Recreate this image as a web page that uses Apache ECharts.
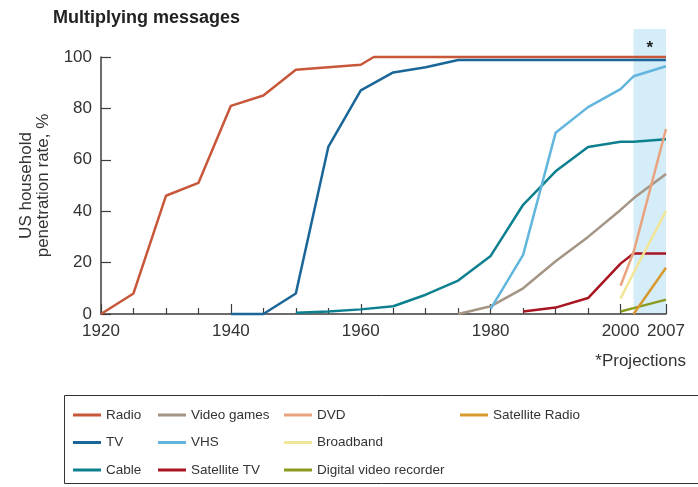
<!DOCTYPE html>
<html>
<head>
<meta charset="utf-8">
<script src="https://cdn.jsdelivr.net/npm/echarts@6/dist/echarts.min.js"></script>
<style>
  html, body { margin: 0; padding: 0; background: #fff; }
  #chart { width: 698px; height: 487px; }
</style>
</head>
<body>
<div id="chart"></div>
<script>
// Household penetration, [year, percent]
const radio = [[1920,0],[1925,8],[1930,46],[1935,51],[1940,81],[1945,85],[1950,95],[1955,96],[1960,97],[1962,100],[1970,100],[1980,100],[1990,100],[2000,100],[2007,100]];
const tv = [[1940,0],[1945,0],[1950,8],[1955,65],[1960,87],[1965,94],[1970,96],[1975,98.8],[1980,98.8],[1990,98.8],[2000,98.8],[2007,98.8]];
const cable = [[1950,0.5],[1955,1],[1960,1.8],[1965,3],[1970,7.5],[1975,13],[1980,22.6],[1985,42.5],[1990,55.5],[1995,65],[2000,67],[2002,67],[2007,68]];
const videoGames = [[1975,0],[1980,3],[1985,10],[1990,20.5],[1995,30],[2000,40.5],[2002,45],[2007,54.5]];
const vhs = [[1980,2],[1985,23],[1990,70.5],[1995,80.5],[2000,87.5],[2002,92.5],[2007,96.4]];
const satelliteTv = [[1985,1],[1990,2.5],[1995,6.2],[2000,19.6],[2002,23.5],[2007,23.5]];
const dvd = [[2000,11],[2002,24],[2007,72]];
const broadband = [[2000,6],[2002,16],[2007,40]];
const dvr = [[2000,1],[2002,2.3],[2007,5.6]];
const satelliteRadio = [[2002,0],[2007,18]];

const majorYears = [1920, 1940, 1960, 1980, 2000, 2007];
const minorYears = [1925, 1930, 1935, 1945, 1950, 1955, 1965, 1970, 1975, 1985, 1990, 1995];
const projectionStart = 2002;
const projectionEnd = 2007;

const FONT = '"Liberation Sans", Arial, Helvetica, sans-serif';
const AXIS = '#3d3d3d';

const seriesDefs = [
  { name: 'Radio', data: radio, color: '#c8573a' },
  { name: 'TV', data: tv, color: '#1a6698' },
  { name: 'Cable', data: cable, color: '#0d8090' },
  { name: 'Video games', data: videoGames, color: '#a59584' },
  { name: 'VHS', data: vhs, color: '#62b6dd' },
  { name: 'Satellite TV', data: satelliteTv, color: '#a8141f' },
  { name: 'Broadband', data: broadband, color: '#f1e597' },
  { name: 'DVD', data: dvd, color: '#e9a47f' },
  { name: 'Digital video recorder', data: dvr, color: '#8a9a1c' },
  { name: 'Satellite Radio', data: satelliteRadio, color: '#d89a2f' }
];

const legendColumns = [
  { left: 73, names: ['Radio', 'TV', 'Cable'] },
  { left: 158, names: ['Video games', 'VHS', 'Satellite TV'] },
  { left: 284, names: ['DVD', 'Broadband', 'Digital video recorder'] },
  { left: 460, names: ['Satellite Radio'] }
];

const chart = echarts.init(document.getElementById('chart'), null, { renderer: 'canvas' });

const option = {
  animation: false,
  backgroundColor: '#ffffff',
  textStyle: { fontFamily: FONT },
  title: {
    text: 'Multiplying messages',
    left: 53, top: 9, padding: 0,
    textStyle: { fontFamily: FONT, fontSize: 18, fontWeight: 'bold', color: '#222' }
  },
  grid: { left: 101, right: 32, top: 57, bottom: 173, containLabel: false, outerBoundsMode: 'none' },
  legend: legendColumns.map(col => ({
    orient: 'vertical',
    left: col.left, top: 408,
    padding: 0,
    itemGap: 13.5,
    itemWidth: 28, itemHeight: 3,
    icon: 'rect',
    selectedMode: false,
    data: col.names,
    textStyle: { fontFamily: FONT, fontSize: 13.5, color: '#333', lineHeight: 14 }
  })),
  xAxis: [
    {
      type: 'value', min: 1920, max: 2007, position: 'bottom',
      axisLine: { show: true, lineStyle: { color: AXIS, width: 1.5 } },
      axisTick: { show: true, inside: true, length: 10, customValues: majorYears, lineStyle: { color: AXIS, width: 1.2 } },
      axisLabel: { customValues: majorYears, formatter: v => String(v), fontFamily: FONT, fontSize: 17, color: '#333', margin: 9 },
      splitLine: { show: false }
    },
    {
      type: 'value', min: 1920, max: 2007, position: 'bottom',
      axisLine: { show: false },
      axisTick: { show: true, inside: true, length: 6, customValues: minorYears, lineStyle: { color: AXIS, width: 1.2 } },
      axisLabel: { show: false },
      splitLine: { show: false }
    }
  ],
  yAxis: {
    type: 'value', min: 0, max: 100, interval: 20,
    name: 'US household\npenetration rate, %',
    nameLocation: 'middle', nameGap: 49, nameRotate: 90,
    nameTextStyle: { fontFamily: FONT, fontSize: 17, lineHeight: 17, color: '#333' },
    axisLine: { show: true, lineStyle: { color: AXIS, width: 1.5 } },
    axisTick: { show: true, inside: true, length: 10, lineStyle: { color: AXIS, width: 1.2 } },
    axisLabel: { fontFamily: FONT, fontSize: 17, color: '#333', margin: 9 },
    splitLine: { show: false }
  },
  series: seriesDefs.map(s => ({
    name: s.name,
    type: 'line',
    data: s.data,
    symbol: 'none',
    color: s.color,
    lineStyle: { color: s.color, width: 2.5 },
    clip: false,
    z: 3
  }))
};

chart.setOption(option);

// Projection band, asterisk, footnote and legend frame, placed through the axis scales
const bl = chart.convertToPixel({ xAxisIndex: 0, yAxisIndex: 0 }, [projectionStart, 0]);
const tr = chart.convertToPixel({ xAxisIndex: 0, yAxisIndex: 0 }, [projectionEnd, 100]);
const bandTop = tr[1] - 28;

chart.setOption({
  graphic: [
    {
      type: 'rect', id: 'band', z: 0, silent: true,
      shape: { x: bl[0], y: bandTop, width: tr[0] - bl[0], height: bl[1] - bandTop },
      style: { fill: '#d5ecf9' }
    },
    {
      type: 'text', id: 'star', z: 10, silent: true,
      x: (bl[0] + tr[0]) / 2, y: bandTop + 11,
      style: { text: '*', fill: '#222', font: 'bold 17px ' + FONT, textAlign: 'center', textVerticalAlign: 'top' }
    },
    {
      type: 'text', id: 'note', z: 10, silent: true,
      x: 686, y: 353,
      style: { text: '*Projections', fill: '#333', font: '17px ' + FONT, textAlign: 'right', textVerticalAlign: 'top' }
    },
    {
      type: 'rect', id: 'legendFrame', z: 0, silent: true,
      shape: { x: 64.5, y: 395.5, width: 700, height: 88 },
      style: { fill: 'none', stroke: '#333', lineWidth: 1 }
    }
  ]
});
</script>
</body>
</html>
